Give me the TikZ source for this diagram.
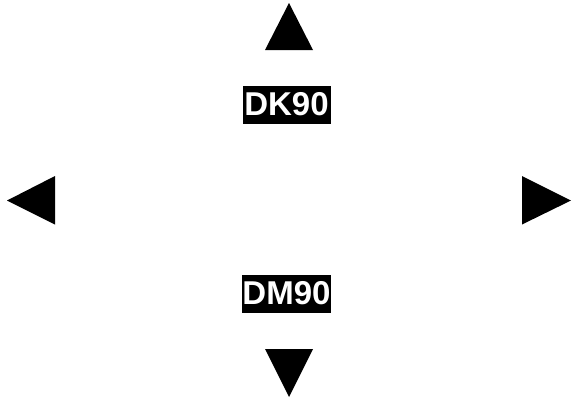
\documentclass[tikz,border=0pt]{standalone}
\usepackage{fontspec}
\setmainfont{Liberation Sans}
\begin{document}
\begin{tikzpicture}[x=1pt,y=-1pt,
  lbl/.style={fill=black,text=white,font=\fontsize{33}{36}\selectfont\bfseries,
    minimum width=88pt,minimum height=38pt,inner sep=0pt},
  tri/.style={fill=black}]
\useasboundingbox (0,0) rectangle (573,399);
\fill[tri] (289,3) -- (265,50) -- (313,50) -- cycle;
\fill[tri] (265,349) -- (313,349) -- (289,397) -- cycle;
\fill[tri] (7,200.5) -- (55,176) -- (55,224.5) -- cycle;
\fill[tri] (522,176) -- (522,224.5) -- (571,200.5) -- cycle;
\node[lbl] (dk) at (286.5,104.5) {DK90};
\node[lbl] (dm) at (286.5,293.5) {DM90};
\end{tikzpicture}
\end{document}
